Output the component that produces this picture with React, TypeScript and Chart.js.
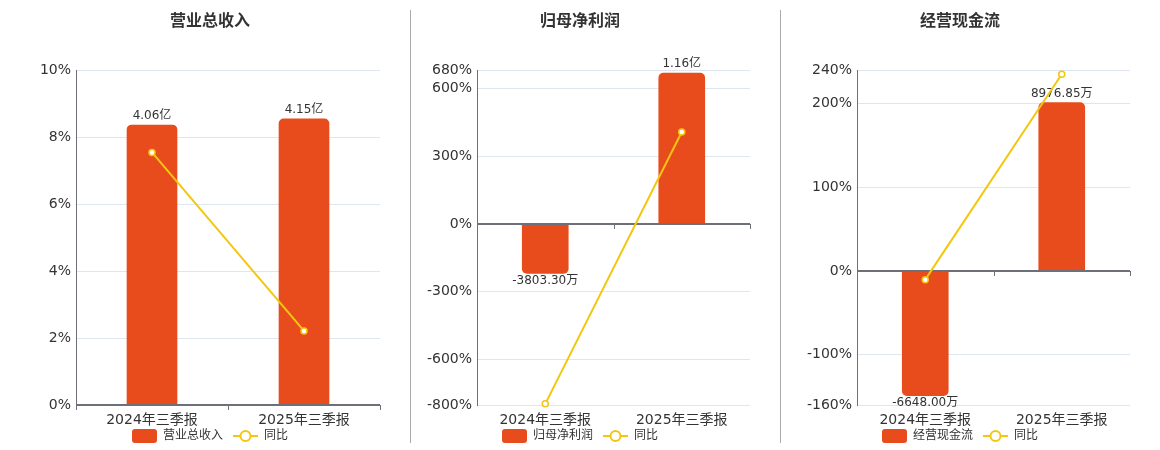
import { useEffect, useRef } from "react";
import { Chart, registerables } from "chart.js";

Chart.register(...registerables);

const FONT = "'DejaVu Sans', 'Noto Sans CJK SC', sans-serif";
const BAR_COLOR = "#e84c1d";
const LINE_COLOR = "#f3c60f";
const TEXT = "#333";
const AXIS = "#6e7079";
const GRID = "#e0e6f1";

Chart.defaults.font.family = FONT;
Chart.defaults.color = TEXT;

const periods = ["2024年三季报", "2025年三季报"];

// amounts in 万元
const revenueAmounts = [40600, 41500];
const profitAmounts = [-3803.3, 11600];
const cashAmounts = [-6648.0, 8976.85];

// 同比 (%)
const revenueYoy = [7.54, 2.21];
const profitYoy = [-795, 406];
const cashYoy = [-10.3, 235];

// left axis ticks (%)
const revenueTicks = [0, 2, 4, 6, 8, 10];
const profitTicks = [-800, -600, -300, 0, 300, 600, 680];
const cashTicks = [-160, -100, 0, 100, 200, 240];

// hidden bar axis ranges (万元), zero lines up with 0%
const revenueBarRange = [0, 48570];
const profitBarRange = [-13923, 11846];
const cashBarRange = [-7150, 10720];

const fmtAmount = (v: number) =>
  Math.abs(v) >= 10000 ? (v / 10000).toFixed(2) + "亿" : v.toFixed(2) + "万";

function barIcon() {
  const c = document.createElement("canvas");
  c.width = 25;
  c.height = 14;
  const g = c.getContext("2d")!;
  g.fillStyle = BAR_COLOR;
  g.beginPath();
  g.roundRect(0, 0, 25, 14, 3);
  g.fill();
  return c;
}

function lineIcon() {
  const c = document.createElement("canvas");
  c.width = 25;
  c.height = 14;
  const g = c.getContext("2d")!;
  g.strokeStyle = LINE_COLOR;
  g.lineWidth = 2;
  g.beginPath();
  g.moveTo(0, 7);
  g.lineTo(25, 7);
  g.stroke();
  g.beginPath();
  g.arc(12.5, 7, 5, 0, Math.PI * 2);
  g.fillStyle = "#fff";
  g.fill();
  g.stroke();
  return c;
}

type PanelProps = {
  left: number;
  width: number;
  axisLeft: number;
  axisRight: number;
  title: string;
  amounts: number[];
  yoy: number[];
  ticks: number[];
  barRange: number[];
  barWidth: number;
};

const ChartPanel = (p: PanelProps) => {
  const ref = useRef<null | HTMLCanvasElement>(null);
  useEffect(() => {
    if (!ref.current) return;
    const ctx = ref.current.getContext("2d");
    if (!ctx) throw new Error("Canvas Error: Ctx not available");
    const barImg = barIcon();
    const lineImg = lineIcon();

    // zero axis line, category ticks and bar value labels
    const decor = {
      id: "decor",
      afterDatasetDraw(ch: any, args: any) {
        if (args.index !== 0) return;
        const { ctx: c, chartArea: a, scales } = ch;
        const y0 = scales.y.getPixelForValue(0);
        c.save();
        c.strokeStyle = AXIS;
        c.lineWidth = 2;
        c.beginPath();
        c.moveTo(a.left, y0);
        c.lineTo(a.right, y0);
        c.stroke();
        c.lineWidth = 1;
        const n = periods.length;
        for (let i = 0; i <= n; i++) {
          const x = Math.round(a.left + ((a.right - a.left) * i) / n) + 0.5;
          c.beginPath();
          c.moveTo(x, y0);
          c.lineTo(x, y0 + 5);
          c.stroke();
        }
        c.fillStyle = TEXT;
        c.font = `12px ${FONT}`;
        c.textAlign = "center";
        args.meta.data.forEach((bar: any, i: number) => {
          const v = p.amounts[i];
          const { x, y } = bar.getProps(["x", "y"], true);
          if (v >= 0) {
            c.textBaseline = "bottom";
            c.fillText(fmtAmount(v), x, y - 3);
          } else {
            c.textBaseline = "top";
            c.fillText(fmtAmount(v), x, y + 1);
          }
        });
        c.restore();
      },
    };

    const chart = new Chart(ctx, {
      type: "bar",
      data: {
        labels: periods,
        datasets: [
          {
            type: "bar",
            label: p.title,
            data: p.amounts,
            yAxisID: "y1",
            backgroundColor: BAR_COLOR,
            borderRadius: 5,
            borderSkipped: "start",
            barThickness: p.barWidth,
            order: 2,
          },
          {
            type: "line",
            label: "同比",
            data: p.yoy,
            yAxisID: "y",
            borderColor: LINE_COLOR,
            borderWidth: 2,
            pointRadius: 3,
            pointBackgroundColor: "#fff",
            pointBorderColor: LINE_COLOR,
            pointBorderWidth: 1.5,
            order: 1,
            clip: false,
            tension: 0,
          } as any,
        ],
      },
      options: {
        animation: false,
        responsive: false,
        events: [],
        layout: { padding: 0 },
        plugins: {
          tooltip: { enabled: false },
          title: {
            display: true,
            text: p.title,
            color: TEXT,
            font: { size: 16, weight: "bold" },
            padding: { top: 12, bottom: 38.8 },
          },
          legend: {
            position: "bottom",
            labels: {
              usePointStyle: true,
              pointStyleWidth: 25,
              color: TEXT,
              font: { size: 12 },
              padding: 10,
              sort: (a: any, b: any) => a.datasetIndex - b.datasetIndex,
              generateLabels: (ch: any) =>
                Chart.defaults.plugins.legend.labels
                  .generateLabels(ch)
                  .map((item: any) => ({
                    ...item,
                    pointStyle: item.datasetIndex === 0 ? barImg : lineImg,
                  })),
            },
          },
        },
        scales: {
          x: {
            grid: { display: false, drawTicks: false },
            border: { display: false },
            // mirror keeps the labels from being clipped to the thin axis box
            ticks: {
              color: TEXT,
              font: { size: 14 },
              mirror: true,
              padding: -23.8,
              maxRotation: 0,
            },
            afterFit: (s: any) => {
              s.height = 15;
            },
          },
          y: {
            position: "left",
            min: p.ticks[0],
            max: p.ticks[p.ticks.length - 1],
            afterBuildTicks: (s: any) => {
              s.ticks = p.ticks.map((v) => ({ value: v }));
            },
            afterFit: (s: any) => {
              s.width = p.axisLeft;
            },
            grid: {
              color: (c: any) => (c.tick && c.tick.value === 0 ? "rgba(0,0,0,0)" : GRID),
              drawTicks: false,
            },
            border: { color: AXIS },
            ticks: {
              color: TEXT,
              font: { size: 14 },
              padding: 5,
              autoSkip: false,
              callback: (v: any) => v + "%",
            },
          },
          y1: {
            position: "right",
            min: p.barRange[0],
            max: p.barRange[1],
            grid: { display: false, drawTicks: false },
            border: { display: false },
            ticks: { display: false },
            afterFit: (s: any) => {
              s.width = p.axisRight;
            },
          },
        },
      } as any,
      plugins: [decor],
    });
    return () => chart.destroy();
  }, []);

  return (
    <canvas
      ref={ref}
      width={p.width}
      height={452}
      style={{ position: "absolute", left: p.left, top: 0, display: "block" }}
    ></canvas>
  );
};

const Separator = ({ x }: { x: number }) => (
  <div
    style={{
      position: "absolute",
      left: x,
      top: 10,
      width: 1,
      height: 433,
      background: "#aaa",
    }}
  />
);

const App = () => (
  <div
    style={{
      position: "fixed",
      left: 0,
      top: 0,
      width: 1160,
      height: 450,
      overflow: "hidden",
      background: "#fff",
    }}
  >
    <ChartPanel
      left={0}
      width={420}
      axisLeft={76}
      axisRight={40}
      title="营业总收入"
      amounts={revenueAmounts}
      yoy={revenueYoy}
      ticks={revenueTicks}
      barRange={revenueBarRange}
      barWidth={50}
    />
    <ChartPanel
      left={400}
      width={360}
      axisLeft={77}
      axisRight={10}
      title="归母净利润"
      amounts={profitAmounts}
      yoy={profitYoy}
      ticks={profitTicks}
      barRange={profitBarRange}
      barWidth={46}
    />
    <ChartPanel
      left={780}
      width={360}
      axisLeft={77}
      axisRight={10}
      title="经营现金流"
      amounts={cashAmounts}
      yoy={cashYoy}
      ticks={cashTicks}
      barRange={cashBarRange}
      barWidth={46}
    />
    <Separator x={410} />
    <Separator x={780} />
  </div>
);

export default App;
